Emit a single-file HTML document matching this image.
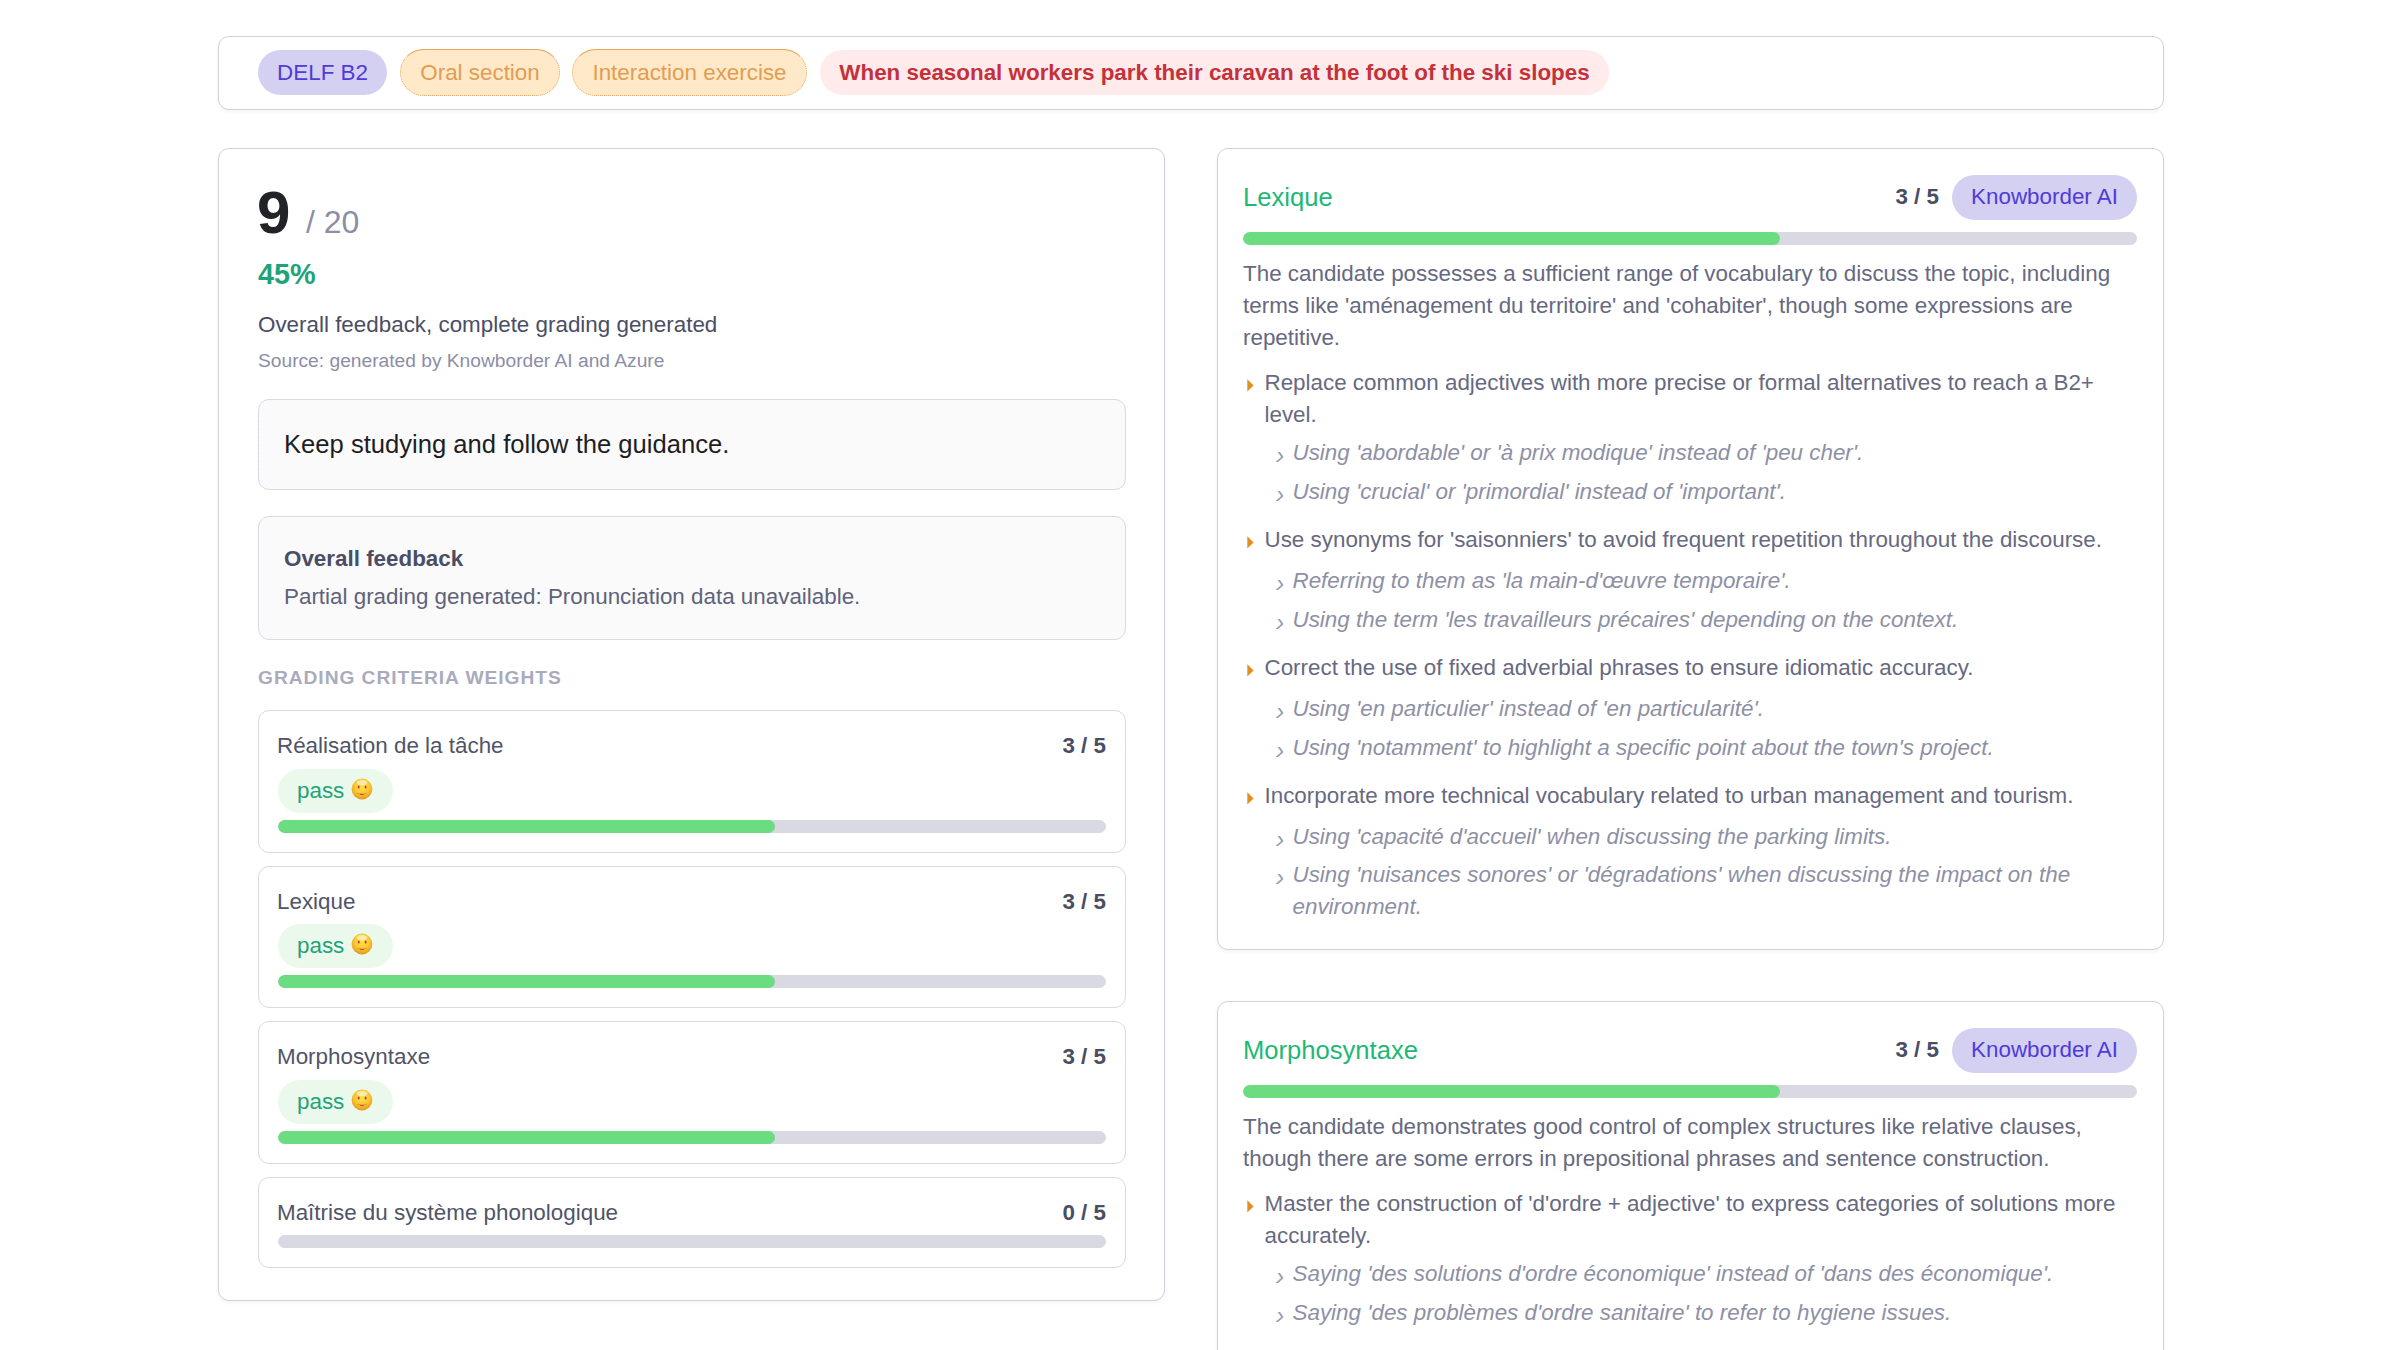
<!DOCTYPE html>
<html lang="en">
<head>
<meta charset="utf-8">
<title>Grading report</title>
<style>
*{box-sizing:border-box;margin:0;padding:0}
html,body{width:2400px;height:1350px;overflow:hidden;background:#fff}
body{font-family:"Liberation Sans",Arial,Helvetica,sans-serif;font-size:22.4px;color:#64677c;position:relative;-webkit-font-smoothing:antialiased}
.card{position:absolute;background:#fff;border:1px solid #cfd1dc;border-radius:11px;box-shadow:0 2px 4px rgba(40,40,70,.05)}
/* header */
#hdr{left:218px;top:36px;width:1946px;height:74px}
.pill{position:absolute;height:45px;border-radius:23px;font-size:22.4px;line-height:45px;text-align:center;white-space:nowrap}
.pill.v{background:#d4d0f2;color:#4f3bd6}
.pill.o{background:#ffe9c8;color:#e19d52;border:1px dotted #e6a458;border-top-style:solid;height:47px;line-height:45px;border-radius:24px}
.pill.r{background:#ffebeb;color:#c5313a;font-weight:bold}
/* left card */
#left{left:218px;top:148px;width:947px;height:1153px}
.abs{position:absolute;white-space:nowrap}
.box{position:absolute;left:39px;width:868px;border:1px solid #d9dae5;border-radius:11px;background-color:#fbfbfc;background-image:radial-gradient(circle at .5px .5px,rgba(70,70,110,.035) .55px,transparent .75px),radial-gradient(circle at .5px .5px,rgba(70,70,110,.035) .55px,transparent .75px);background-size:4px 4px;background-position:0 0,2px 2px}
.row{position:absolute;left:39px;width:868px;border:1px solid #d9dae5;border-radius:11px;background:#fff}
.row .nm{position:absolute;left:18px;top:20px;font-size:22.4px;line-height:30px;color:#505468;white-space:nowrap}
.row .sc{position:absolute;right:19px;top:20px;font-size:22.4px;line-height:30px;font-weight:bold;color:#4a4d63;white-space:nowrap}
.row .ps{position:absolute;left:19px;top:58px;width:115px;height:44px;border-radius:22px;background:#ebf9ec;color:#1fa37a;font-size:22.4px;line-height:44px;padding-left:19px;white-space:nowrap}
.row .ps svg{position:absolute;left:73.3px;top:9.3px}
.bar{position:absolute;height:13px;border-radius:7px;background:#d9d9e4;overflow:hidden}
.bar i{display:block;height:100%;width:60.06%;background:#6bdc7f;border-radius:7px}
.row .bar{left:19px;right:19px}
.row.r2 .ps{top:57px}
/* right cards */
.rc{left:1217px;width:947px;padding:25px}
.rc h3{font-weight:normal;font-size:25.6px;line-height:32px;color:#1eb876;position:absolute;left:25px;top:32px;white-space:nowrap}
.rc .sc{position:absolute;right:224px;top:32px;font-size:22.4px;line-height:32px;font-weight:bold;color:#4a4d63;white-space:nowrap}
.rc .ai{position:absolute;right:26px;top:26px;width:185px;height:45px;border-radius:23px;background:#d4d0f2;color:#4f3bd6;font-size:22.4px;line-height:43.8px;text-align:center;white-space:nowrap}
.rc .bar{left:25px;right:26px;top:83px}
.rc .body{position:absolute;left:25px;right:26px;top:109px}
.rc p{font-size:22.4px;line-height:32px;color:#666980}
.rc ul{list-style:none}
.rc ul.m{margin-top:13px}
.rc ul.m>li{position:relative;padding-left:21.5px;font-size:22.4px;line-height:32px;color:#666980;margin-bottom:16px}
.rc ul.m>li>svg{position:absolute;left:3.6px;top:12px}
.rc ul.m>li>.t{display:block;min-height:35px}
.rc ul.s{margin-top:6px}
.rc ul.s>li{position:relative;padding-left:28px;margin-left:0;font-style:italic;font-size:22.4px;line-height:32px;color:#8d90a5;margin-bottom:7px}
.rc ul.s>li>b{position:absolute;left:11.2px;top:1.5px;font-style:italic;font-weight:normal;font-size:25.6px;line-height:32px;color:#999cb0}
</style>
</head>
<body>
<svg width="0" height="0" style="position:absolute"><defs><radialGradient id="eg" cx="50%" cy="38%" r="62%"><stop offset="0" stop-color="#ffe14f"/><stop offset=".55" stop-color="#f9c934"/><stop offset=".85" stop-color="#eeaa26"/><stop offset="1" stop-color="#e0921c"/></radialGradient></defs></svg>

<div class="card" id="hdr">
  <div class="pill v" style="left:39px;top:13px;width:129px">DELF B2</div>
  <div class="pill o" style="left:181px;top:12px;width:160px">Oral section</div>
  <div class="pill o" style="left:353px;top:12px;width:235px">Interaction exercise</div>
  <div class="pill r" style="left:601px;top:13px;width:789px">When seasonal workers park their caravan at the foot of the ski slopes</div>
</div>

<div class="card" id="left">
  <div class="abs" style="left:38px;top:29px;font-size:60px;line-height:70px;font-weight:bold;color:#222326">9</div>
  <div class="abs" style="left:87px;top:52.7px;font-size:32px;line-height:40px;color:#8b8ea6">/ 20</div>
  <div class="abs" style="left:39px;top:106.7px;font-size:28.8px;line-height:36px;font-weight:bold;color:#1fa37a">45%</div>
  <div class="abs" style="left:39px;top:160px;font-size:22.4px;line-height:32px;color:#4a4d63">Overall feedback, complete grading generated</div>
  <div class="abs" style="left:39px;top:197.5px;font-size:19.2px;line-height:28px;color:#8b8ea6">Source: generated by Knowborder AI and Azure</div>

  <div class="box" style="top:250px;height:91px">
    <div class="abs" style="left:25px;top:26.5px;font-size:25.6px;line-height:34px;color:#1d1e24">Keep studying and follow the guidance.</div>
  </div>
  <div class="box" style="top:367px;height:124px">
    <div class="abs" style="left:25px;top:25.7px;font-size:22.4px;line-height:32px;font-weight:bold;color:#4a4d63">Overall feedback</div>
    <div class="abs" style="left:25px;top:63.6px;font-size:22.4px;line-height:32px;color:#5f6279">Partial grading generated: Pronunciation data unavailable.</div>
  </div>
  <div class="abs" style="left:39px;top:515px;font-size:19.2px;line-height:28px;font-weight:bold;letter-spacing:.96px;color:#a9abbd">GRADING CRITERIA WEIGHTS</div>

  <div class="row" style="top:561px;height:143px">
    <div class="nm">Réalisation de la tâche</div><div class="sc">3 / 5</div>
    <div class="ps">pass <svg width="22" height="22" viewBox="0 0 22 22"><circle cx="11" cy="11" r="10.4" fill="url(#eg)"/><ellipse cx="11" cy="4.6" rx="5.2" ry="2.6" fill="#fff" opacity=".55"/><ellipse cx="7.7" cy="8.9" rx="0.95" ry="1.5" fill="#b4382c"/><ellipse cx="14.6" cy="8.9" rx="0.95" ry="1.5" fill="#b4382c"/><path d="M6.6 15.2 Q11 17.4 15.4 15.2" stroke="#e39a2c" stroke-width="1.1" fill="none" stroke-linecap="round"/><path d="M9.6 16.2 Q11 16.9 12.4 16.2" stroke="#c8442e" stroke-width="1.1" fill="none" stroke-linecap="round"/></svg></div>
    <div class="bar" style="top:109px"><i></i></div>
  </div>
  <div class="row r2" style="top:717px;height:142px">
    <div class="nm">Lexique</div><div class="sc">3 / 5</div>
    <div class="ps">pass <svg width="22" height="22" viewBox="0 0 22 22"><circle cx="11" cy="11" r="10.4" fill="url(#eg)"/><ellipse cx="11" cy="4.6" rx="5.2" ry="2.6" fill="#fff" opacity=".55"/><ellipse cx="7.7" cy="8.9" rx="0.95" ry="1.5" fill="#b4382c"/><ellipse cx="14.6" cy="8.9" rx="0.95" ry="1.5" fill="#b4382c"/><path d="M6.6 15.2 Q11 17.4 15.4 15.2" stroke="#e39a2c" stroke-width="1.1" fill="none" stroke-linecap="round"/><path d="M9.6 16.2 Q11 16.9 12.4 16.2" stroke="#c8442e" stroke-width="1.1" fill="none" stroke-linecap="round"/></svg></div>
    <div class="bar" style="top:108px"><i></i></div>
  </div>
  <div class="row" style="top:872px;height:143px">
    <div class="nm">Morphosyntaxe</div><div class="sc">3 / 5</div>
    <div class="ps">pass <svg width="22" height="22" viewBox="0 0 22 22"><circle cx="11" cy="11" r="10.4" fill="url(#eg)"/><ellipse cx="11" cy="4.6" rx="5.2" ry="2.6" fill="#fff" opacity=".55"/><ellipse cx="7.7" cy="8.9" rx="0.95" ry="1.5" fill="#b4382c"/><ellipse cx="14.6" cy="8.9" rx="0.95" ry="1.5" fill="#b4382c"/><path d="M6.6 15.2 Q11 17.4 15.4 15.2" stroke="#e39a2c" stroke-width="1.1" fill="none" stroke-linecap="round"/><path d="M9.6 16.2 Q11 16.9 12.4 16.2" stroke="#c8442e" stroke-width="1.1" fill="none" stroke-linecap="round"/></svg></div>
    <div class="bar" style="top:109px"><i></i></div>
  </div>
  <div class="row" style="top:1028px;height:91px">
    <div class="nm">Maîtrise du système phonologique</div><div class="sc">0 / 5</div>
    <div class="bar" style="top:57px"><i style="width:0"></i></div>
  </div>
</div>

<div class="card rc" id="r1" style="top:148px;height:802px">
  <h3>Lexique</h3><div class="sc">3 / 5</div><div class="ai">Knowborder AI</div>
  <div class="bar"><i></i></div>
  <div class="body">
    <p>The candidate possesses a sufficient range of vocabulary to discuss the topic, including terms like 'aménagement du territoire' and 'cohabiter', though some expressions are repetitive.</p>
    <ul class="m">
      <li><svg width="7" height="13" viewBox="0 0 7 13"><path d="M0.3 0.2 L6.6 6.4 L0.3 12.6 Z" fill="#e08f20"/></svg><span class="t">Replace common adjectives with more precise or formal alternatives to reach a B2+ level.</span>
        <ul class="s"><li><b>›</b>Using 'abordable' or 'à prix modique' instead of 'peu cher'.</li><li><b>›</b>Using 'crucial' or 'primordial' instead of 'important'.</li></ul></li>
      <li><svg width="7" height="13" viewBox="0 0 7 13"><path d="M0.3 0.2 L6.6 6.4 L0.3 12.6 Z" fill="#e08f20"/></svg><span class="t">Use synonyms for 'saisonniers' to avoid frequent repetition throughout the discourse.</span>
        <ul class="s"><li><b>›</b>Referring to them as 'la main-d'œuvre temporaire'.</li><li><b>›</b>Using the term 'les travailleurs précaires' depending on the context.</li></ul></li>
      <li><svg width="7" height="13" viewBox="0 0 7 13"><path d="M0.3 0.2 L6.6 6.4 L0.3 12.6 Z" fill="#e08f20"/></svg><span class="t">Correct the use of fixed adverbial phrases to ensure idiomatic accuracy.</span>
        <ul class="s"><li><b>›</b>Using 'en particulier' instead of 'en particularité'.</li><li><b>›</b>Using 'notamment' to highlight a specific point about the town's project.</li></ul></li>
      <li><svg width="7" height="13" viewBox="0 0 7 13"><path d="M0.3 0.2 L6.6 6.4 L0.3 12.6 Z" fill="#e08f20"/></svg><span class="t">Incorporate more technical vocabulary related to urban management and tourism.</span>
        <ul class="s"><li><b>›</b>Using 'capacité d'accueil' when discussing the parking limits.</li><li style="margin-top:-1px"><b>›</b>Using 'nuisances sonores' or 'dégradations' when discussing the impact on the environment.</li></ul></li>
    </ul>
  </div>
</div>

<div class="card rc" id="r2" style="top:1001px;height:420px;border-bottom-left-radius:0;border-bottom-right-radius:0">
  <h3>Morphosyntaxe</h3><div class="sc">3 / 5</div><div class="ai">Knowborder AI</div>
  <div class="bar"><i></i></div>
  <div class="body">
    <p>The candidate demonstrates good control of complex structures like relative clauses, though there are some errors in prepositional phrases and sentence construction.</p>
    <ul class="m">
      <li><svg width="7" height="13" viewBox="0 0 7 13"><path d="M0.3 0.2 L6.6 6.4 L0.3 12.6 Z" fill="#e08f20"/></svg><span class="t">Master the construction of 'd'ordre + adjective' to express categories of solutions more accurately.</span>
        <ul class="s"><li><b>›</b>Saying 'des solutions d'ordre économique' instead of 'dans des économique'.</li><li><b>›</b>Saying 'des problèmes d'ordre sanitaire' to refer to hygiene issues.</li></ul></li>
    </ul>
  </div>
</div>

</body>
</html>
